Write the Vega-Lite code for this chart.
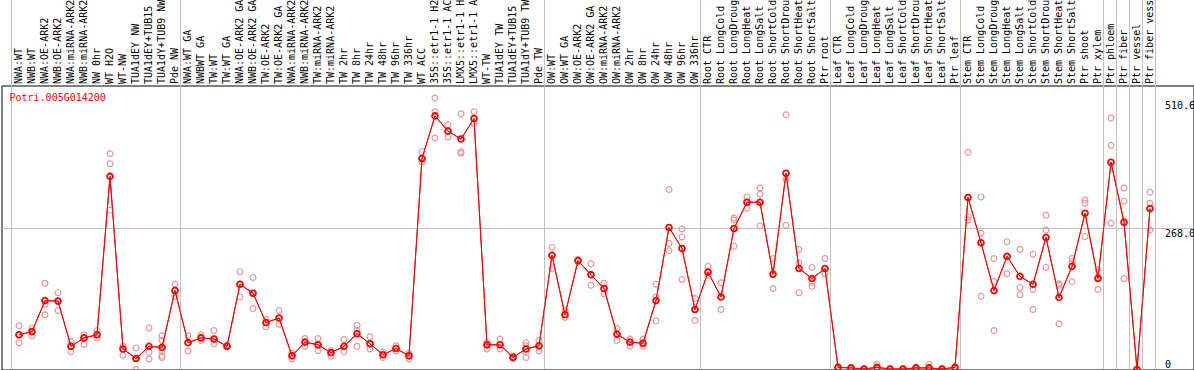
{
  "$schema": "https://vega.github.io/schema/vega-lite/v6.json",
  "autosize": {"type": "none"},
  "padding": {"left": 1.5, "top": 85.5, "right": 0.5, "bottom": 0.5},
  "width": 1192,
  "height": 284,
  "background": "white",
  "config": {
    "view": {"stroke": "#000000", "strokeWidth": 1},
    "font": "DejaVu Sans Mono"
  },
  "datasets": {
    "means": [
      {"id":1,"v":66},{"id":2,"v":72},{"id":3,"v":131},{"id":4,"v":130},{"id":5,"v":44},{"id":6,"v":60},{"id":7,"v":66},{"id":8,"v":367},{"id":9,"v":39},{"id":10,"v":21},
      {"id":11,"v":44},{"id":12,"v":42},{"id":13,"v":150},{"id":14,"v":51},{"id":15,"v":60},{"id":16,"v":58},{"id":17,"v":44},{"id":18,"v":162},{"id":19,"v":145},{"id":20,"v":89},
      {"id":21,"v":98},{"id":22,"v":26},{"id":23,"v":52},{"id":24,"v":47},{"id":25,"v":32},{"id":26,"v":44},{"id":27,"v":68},{"id":28,"v":49},{"id":29,"v":28},{"id":30,"v":40},
      {"id":31,"v":26},{"id":32,"v":401},{"id":33,"v":482},{"id":34,"v":453},{"id":35,"v":438},{"id":36,"v":477},{"id":37,"v":47},{"id":38,"v":47},{"id":39,"v":23},{"id":40,"v":39},
      {"id":41,"v":45},{"id":42,"v":217},{"id":43,"v":104},{"id":44,"v":207},{"id":45,"v":180},{"id":46,"v":154},{"id":47,"v":67},{"id":48,"v":52},{"id":49,"v":50},{"id":50,"v":131},
      {"id":51,"v":270},{"id":52,"v":230},{"id":53,"v":114},{"id":54,"v":185},{"id":55,"v":138},{"id":56,"v":268},{"id":57,"v":318},{"id":58,"v":318},{"id":59,"v":181},{"id":60,"v":373},
      {"id":61,"v":192},{"id":62,"v":173},{"id":63,"v":192},{"id":64,"v":4},{"id":65,"v":3},{"id":66,"v":1},{"id":67,"v":4},{"id":68,"v":1},{"id":69,"v":1},{"id":70,"v":3},
      {"id":71,"v":3},{"id":72,"v":1},{"id":73,"v":4},{"id":74,"v":327},{"id":75,"v":241},{"id":76,"v":150},{"id":77,"v":215},{"id":78,"v":177},{"id":79,"v":162},{"id":80,"v":251},
      {"id":81,"v":137},{"id":82,"v":196},{"id":83,"v":297},{"id":84,"v":173},{"id":85,"v":394},{"id":86,"v":280},{"id":87,"v":0},{"id":88,"v":306}
    ],
    "reps": [
      {"id":1,"v":83},{"id":1,"v":66},{"id":1,"v":51},
      {"id":2,"v":79},{"id":2,"v":64},{"id":2,"v":72},
      {"id":3,"v":164},{"id":3,"v":124},{"id":3,"v":104},
      {"id":4,"v":146},{"id":4,"v":112},{"id":4,"v":130},
      {"id":5,"v":53},{"id":5,"v":34},{"id":5,"v":44},
      {"id":6,"v":66},{"id":6,"v":48},{"id":6,"v":60},
      {"id":7,"v":74},{"id":7,"v":60},{"id":7,"v":66},
      {"id":8,"v":410},{"id":8,"v":391},{"id":8,"v":303},
      {"id":9,"v":44},{"id":9,"v":27},{"id":9,"v":39},
      {"id":10,"v":41},{"id":10,"v":0},{"id":10,"v":21},
      {"id":11,"v":79},{"id":11,"v":33},{"id":11,"v":20},
      {"id":12,"v":64},{"id":12,"v":55},{"id":12,"v":35},{"id":12,"v":26},{"id":12,"v":23},{"id":12,"v":42},
      {"id":13,"v":162},{"id":13,"v":139},{"id":13,"v":150},
      {"id":14,"v":64},{"id":14,"v":35},{"id":14,"v":51},
      {"id":15,"v":66},{"id":15,"v":55},{"id":15,"v":60},
      {"id":16,"v":74},{"id":16,"v":49},{"id":16,"v":58},
      {"id":17,"v":44},{"id":17,"v":43},{"id":17,"v":46},
      {"id":18,"v":186},{"id":18,"v":138},{"id":18,"v":162},
      {"id":19,"v":175},{"id":19,"v":116},{"id":19,"v":145},
      {"id":20,"v":81},{"id":20,"v":95},{"id":20,"v":89},
      {"id":21,"v":112},{"id":21,"v":86},{"id":21,"v":98},
      {"id":22,"v":31},{"id":22,"v":20},{"id":22,"v":26},
      {"id":23,"v":59},{"id":23,"v":44},{"id":23,"v":52},
      {"id":24,"v":59},{"id":24,"v":36},{"id":24,"v":47},
      {"id":25,"v":36},{"id":25,"v":25},{"id":25,"v":32},
      {"id":26,"v":57},{"id":26,"v":34},{"id":26,"v":44},
      {"id":27,"v":84},{"id":27,"v":44},{"id":27,"v":74},
      {"id":28,"v":62},{"id":28,"v":39},{"id":28,"v":49},
      {"id":29,"v":33},{"id":29,"v":23},{"id":29,"v":28},
      {"id":30,"v":45},{"id":30,"v":35},{"id":30,"v":40},
      {"id":31,"v":31},{"id":31,"v":20},{"id":31,"v":26},
      {"id":32,"v":414},{"id":32,"v":394},{"id":32,"v":401},
      {"id":33,"v":516},{"id":33,"v":490},{"id":33,"v":440},
      {"id":34,"v":465},{"id":34,"v":442},{"id":34,"v":453},
      {"id":35,"v":486},{"id":35,"v":414},{"id":35,"v":411},
      {"id":36,"v":490},{"id":36,"v":468},{"id":36,"v":477},
      {"id":37,"v":52},{"id":37,"v":39},{"id":37,"v":47},
      {"id":38,"v":58},{"id":38,"v":39},{"id":38,"v":47},
      {"id":39,"v":23},{"id":39,"v":21},{"id":39,"v":25},
      {"id":40,"v":51},{"id":40,"v":45},{"id":40,"v":33},{"id":40,"v":23},
      {"id":41,"v":55},{"id":41,"v":35},{"id":41,"v":45},
      {"id":42,"v":232},{"id":42,"v":192},{"id":42,"v":217},
      {"id":43,"v":112},{"id":43,"v":99},{"id":43,"v":104},
      {"id":44,"v":207},{"id":44,"v":205},{"id":44,"v":209},
      {"id":45,"v":201},{"id":45,"v":160},{"id":45,"v":180},
      {"id":46,"v":164},{"id":46,"v":144},{"id":46,"v":154},
      {"id":47,"v":78},{"id":47,"v":55},{"id":47,"v":67},
      {"id":48,"v":58},{"id":48,"v":44},{"id":48,"v":52},
      {"id":49,"v":58},{"id":49,"v":44},{"id":49,"v":50},
      {"id":50,"v":162},{"id":50,"v":138},{"id":50,"v":92},
      {"id":51,"v":342},{"id":51,"v":240},{"id":51,"v":226},
      {"id":52,"v":267},{"id":52,"v":252},{"id":52,"v":171},
      {"id":53,"v":135},{"id":53,"v":93},{"id":53,"v":114},
      {"id":54,"v":196},{"id":54,"v":179},{"id":54,"v":185},
      {"id":55,"v":165},{"id":55,"v":114},{"id":55,"v":138},
      {"id":56,"v":288},{"id":56,"v":284},{"id":56,"v":234},
      {"id":57,"v":328},{"id":57,"v":307},{"id":57,"v":318},
      {"id":58,"v":345},{"id":58,"v":333},{"id":58,"v":273},
      {"id":59,"v":211},{"id":59,"v":154},{"id":59,"v":181},
      {"id":60,"v":484},{"id":60,"v":361},{"id":60,"v":274},
      {"id":61,"v":228},{"id":61,"v":203},{"id":61,"v":146},
      {"id":62,"v":194},{"id":62,"v":166},{"id":62,"v":158},
      {"id":63,"v":211},{"id":63,"v":182},{"id":63,"v":192},
      {"id":64,"v":4},{"id":64,"v":3},{"id":64,"v":5},
      {"id":65,"v":3},{"id":65,"v":2},{"id":65,"v":4},
      {"id":66,"v":1},{"id":66,"v":0},{"id":66,"v":1},
      {"id":67,"v":10},{"id":67,"v":2},{"id":67,"v":3},
      {"id":68,"v":1},{"id":68,"v":0},{"id":68,"v":1},
      {"id":69,"v":1},{"id":69,"v":0},{"id":69,"v":1},
      {"id":70,"v":3},{"id":70,"v":2},{"id":70,"v":4},
      {"id":71,"v":10},{"id":71,"v":1},{"id":71,"v":2},
      {"id":72,"v":1},{"id":72,"v":0},{"id":72,"v":1},
      {"id":73,"v":4},{"id":73,"v":3},{"id":73,"v":5},
      {"id":74,"v":413},{"id":74,"v":290},{"id":74,"v":284},
      {"id":75,"v":328},{"id":75,"v":259},{"id":75,"v":139},
      {"id":76,"v":211},{"id":76,"v":167},{"id":76,"v":74},
      {"id":77,"v":243},{"id":77,"v":182},{"id":77,"v":215},
      {"id":78,"v":228},{"id":78,"v":156},{"id":78,"v":142},
      {"id":79,"v":219},{"id":79,"v":152},{"id":79,"v":114},
      {"id":80,"v":293},{"id":80,"v":265},{"id":80,"v":194},
      {"id":81,"v":163},{"id":81,"v":87},{"id":81,"v":160},
      {"id":82,"v":211},{"id":82,"v":167},{"id":82,"v":205},
      {"id":83,"v":322},{"id":83,"v":316},{"id":83,"v":253},
      {"id":84,"v":190},{"id":84,"v":152},{"id":84,"v":175},
      {"id":85,"v":478},{"id":85,"v":426},{"id":85,"v":278},
      {"id":86,"v":345},{"id":86,"v":320},{"id":86,"v":173},
      {"id":87,"v":0},{"id":87,"v":0},{"id":87,"v":0},
      {"id":88,"v":337},{"id":88,"v":316},{"id":88,"v":265}
    ],
    "seps": [{"id":1},{"id":14},{"id":42},{"id":54},{"id":64},{"id":74},{"id":85},{"id":86},{"id":87},{"id":88}],
    "sepEnd": [{"id":88}],
    "hgrid": [{"v":268}],
    "gene": [{"id":1,"name":"Potri.005G014200"}]
  },
  "layer": [
    {
      "data": {"name": "means"},
      "mark": {"type": "line", "color": "#ff0000", "strokeWidth": 1},
      "encoding": {
        "x": {
          "field": "id", "type": "ordinal", "title": null,
          "scale": {"type": "band", "range": [11, 1155], "paddingInner": 0, "paddingOuter": 0},
          "axis": {
            "orient": "top", "domain": false, "ticks": false, "grid": false,
            "labelAngle": -90, "labelAlign": "left", "labelBaseline": "middle",
            "labelPadding": 2, "labelFont": "DejaVu Sans Mono", "labelFontSize": 10,
            "labelColor": "#000000", "labelOverlap": false, "labelLimit": 300,
            "labelExpr": "['NWA:WT','NWB:WT','NWA:OE-ARK2','NWB:OE-ARK2','NWA:miRNA-ARK2','NWB:miRNA-ARK2','NW 0hr','WT H2O','WT-NW','TUA1dEY NW','TUA1dEY+TUB15','TUA1dY+TUB9 NW','Pde NW','NWA:WT GA','NWBWT GA','TW:WT','TW:WT GA','NWA:OE-ARK2 GA','NWB:OE-ARK2 GA','TW:OE-ARK2','TW:OE-ARK2 GA','NWA:miRNA-ARK2','NWB:miRNA-ARK2','TW:miRNA-ARK2','TW:miRNA-ARK2','TW 2hr','TW 8hr','TW 24hr','TW 48hr','TW 96hr','TW 336hr','WT ACC','35S::etr1-1 H2O','35S::etr1-1 ACC','LMX5::etr1-1 H2O','LMX5::etr1-1 ACC','WT-TW','TUA1dEY TW','TUA1dEY+TUB15','TUA1dY+TUB9 TW','Pde TW','OW:WT','OW:WT GA','OW:OE-ARK2','OW:OE-ARK2 GA','OW:miRNA-ARK2','OW:miRNA-ARK2','OW 2hr','OW 8hr','OW 24hr','OW 48hr','OW 96hr','OW 336hr','Root CTR','Root LongCold','Root LongDrought','Root LongHeat','Root LongSalt','Root ShortCold','Root ShortDrought','Root ShortHeat','Root ShortSalt','Ptr root','Leaf CTR','Leaf LongCold','Leaf LongDrought','Leaf LongHeat','Leaf LongSalt','Leaf ShortCold','Leaf ShortDrought','Leaf ShortHeat','Leaf ShortSalt','Ptr leaf','Stem CTR','Stem LongCold','Stem LongDrought','Stem LongHeat','Stem LongSalt','Stem ShortCold','Stem ShortDrought','Stem ShortHeat','Stem ShortSalt','Ptr shoot','Ptr xylem','Ptr phloem','Ptr fiber','Ptr vessel','Ptr fiber vessel'][datum.value - 1]"
          }
        },
        "y": {
          "field": "v", "type": "quantitative", "title": null,
          "scale": {"domain": [0, 539.8], "nice": false, "zero": true},
          "axis": {
            "orient": "right", "offset": -29, "values": [0, 268, 510.6],
            "domain": false, "ticks": false, "grid": false,
            "labelPadding": 0, "labelAlign": "left",
            "labelBaseline": {"condition": {"test": "datum.value === 0", "value": "bottom"}, "value": "top"},
            "labelFont": "DejaVu Sans Mono", "labelFontSize": 10, "labelColor": "#000000",
            "labelOverlap": false,
            "labelExpr": "datum.value === 0 ? '0' : format(datum.value, '.1f')"
          }
        }
      }
    },
    {
      "data": {"name": "seps"},
      "mark": {"type": "rule", "color": "#c0c0c0", "strokeWidth": 1, "xOffset": -1},
      "encoding": {
        "x": {"field": "id", "type": "ordinal", "bandPosition": 0},
        "y": {"datum": 0, "type": "quantitative"},
        "y2": {"datum": 703}
      }
    },
    {
      "data": {"name": "sepEnd"},
      "mark": {"type": "rule", "color": "#c0c0c0", "strokeWidth": 1, "xOffset": -1},
      "encoding": {
        "x": {"field": "id", "type": "ordinal", "bandPosition": 1},
        "y": {"datum": 0, "type": "quantitative"},
        "y2": {"datum": 703}
      }
    },
    {
      "data": {"name": "hgrid"},
      "mark": {"type": "rule", "color": "#c0c0c0", "strokeWidth": 1},
      "encoding": {
        "y": {"field": "v", "type": "quantitative"}
      }
    },
    {
      "data": {"name": "reps"},
      "mark": {"type": "point", "shape": "circle", "filled": false, "stroke": "#eb9696", "strokeWidth": 1.2, "size": 34, "opacity": 1},
      "encoding": {
        "x": {"field": "id", "type": "ordinal"},
        "y": {"field": "v", "type": "quantitative"}
      }
    },
    {
      "data": {"name": "means"},
      "mark": {"type": "line", "color": "#ff0000", "strokeWidth": 1},
      "encoding": {
        "x": {"field": "id", "type": "ordinal"},
        "y": {"field": "v", "type": "quantitative"}
      }
    },
    {
      "data": {"name": "means"},
      "mark": {"type": "point", "shape": "circle", "filled": false, "stroke": "#ff0000", "strokeWidth": 1.8, "size": 34, "opacity": 1},
      "encoding": {
        "x": {"field": "id", "type": "ordinal"},
        "y": {"field": "v", "type": "quantitative"}
      }
    },
    {
      "data": {"name": "gene"},
      "mark": {"type": "text", "color": "#ff0000", "font": "DejaVu Sans Mono", "fontSize": 10, "align": "left", "baseline": "alphabetic", "dx": -3, "dy": 15},
      "encoding": {
        "x": {"field": "id", "type": "ordinal", "bandPosition": 0},
        "y": {"datum": 539.8, "type": "quantitative"},
        "text": {"field": "name"}
      }
    }
  ]
}
